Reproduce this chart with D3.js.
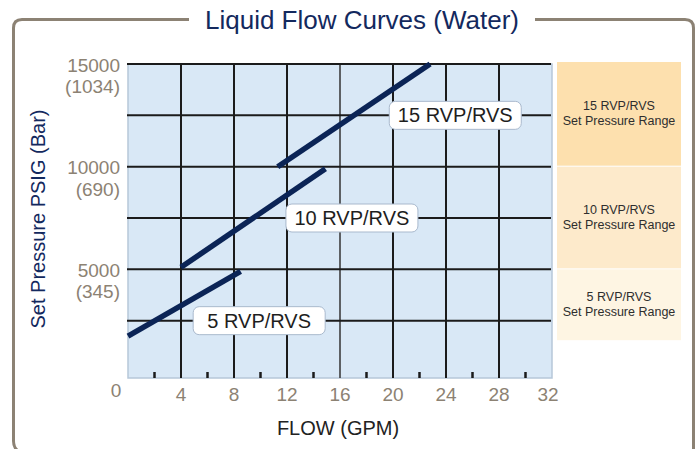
<!DOCTYPE html>
<html>
<head>
<meta charset="utf-8">
<script src="https://cdn.jsdelivr.net/npm/d3@7"></script>
<style>
  html, body { margin: 0; padding: 0; background: #fff; }
  svg { display: block; font-family: "Liberation Sans", Arial, Helvetica, sans-serif; }
</style>
</head>
<body>
<div id="chart"></div>
<script>
const WIDTH = 698;
const HEIGHT = 449;

// x axis (GPM)
const flowTicks = [4, 8, 12, 16, 20, 24, 28, 32];
const flowMinorTicks = [2, 6, 10, 14, 18, 22, 26, 30];
const flowGrid = [4, 8, 12, 16, 20, 24, 28];

// y axis (PSIG / Bar)
const pressureGrid = [2500, 5000, 7500, 10000, 12500, 15000];
const psigLabels = [15000, 10000, 5000];
const barLabels = [1034, 690, 345];

// curves
const seriesNames = ["5 RVP/RVS", "10 RVP/RVS", "15 RVP/RVS"];
const seriesFlow = [[0, 8.5], [4, 14.9], [11.3, 22.8]];
const seriesPressure = [[1750, 4900], [5100, 9900], [10000, 15000]];
const labelFlow = [9.9, 16.9, 24.7];
const labelPressure = [2500, 7500, 12500];

// set pressure ranges on the right
const rangeLow = [1500, 5000, 10000];
const rangeHigh = [5000, 10000, 15000];
const rangeColors = ["#fef5e3", "#fdeacb", "#fde0ae"];

const svg = d3.select("#chart")
    .append("svg")
    .attr("width", WIDTH)
    .attr("height", HEIGHT);

const x = d3.scaleLinear().domain([0, 32]).range([128, 552]);
const y = d3.scaleLinear().domain([0, 15000]).range([372, 64]);
const PLOT_BOTTOM = 378;

/* FRAME + TITLE */

const frame = d3.path();
frame.moveTo(189, 19.5);
frame.lineTo(22, 19.5);
frame.quadraticCurveTo(13.5, 19.5, 13.5, 28);
frame.lineTo(13.5, 441);
frame.quadraticCurveTo(13.5, 449, 20, 452);
frame.moveTo(535, 19.5);
frame.lineTo(685, 19.5);
frame.quadraticCurveTo(693.5, 19.5, 693.5, 28);
frame.lineTo(693.5, 452);

svg.append("path")
    .attr("d", frame.toString())
    .attr("fill", "none")
    .attr("stroke", "#8c8274")
    .attr("stroke-width", 3);

svg.append("text")
    .attr("x", 362)
    .attr("y", 29)
    .attr("text-anchor", "middle")
    .attr("fill", "#13295e")
    .style("font-size", "26px")
    .text("Liquid Flow Curves (Water)");

/* RANGE PANELS */

const panels = svg.append("g");
seriesNames.forEach((name, i) => {
    const top = y(rangeHigh[i]) - (i === 2 ? 2 : 0);
    const bottom = y(rangeLow[i]) - 1;
    panels.append("rect")
        .attr("x", 557)
        .attr("y", top)
        .attr("width", 124)
        .attr("height", bottom - top)
        .attr("fill", rangeColors[i]);
    const cy = (top + bottom) / 2;
    const t = panels.append("text")
        .attr("x", 619)
        .attr("text-anchor", "middle")
        .attr("fill", "#2e2e2e")
        .style("font-size", "12.5px");
    t.append("tspan").attr("x", 619).attr("y", cy - 4).text(name);
    t.append("tspan").attr("x", 619).attr("y", cy + 11).text("Set Pressure Range");
});

/* PLOT AREA */

svg.append("rect")
    .attr("x", x(0))
    .attr("y", y(15000))
    .attr("width", x(32) - x(0))
    .attr("height", PLOT_BOTTOM - y(15000))
    .attr("fill", "#d9e8f6")
    .attr("stroke", "#b6c7d9")
    .attr("stroke-width", 1.5);

const grid = svg.append("g");

grid.selectAll("line.v")
    .data(flowGrid)
    .enter()
    .append("line")
    .attr("x1", d => x(d))
    .attr("x2", d => x(d))
    .attr("y1", y(15000))
    .attr("y2", PLOT_BOTTOM)
    .attr("stroke", d => d === 16 ? "#333" : "#1b1b1b")
    .attr("stroke-width", d => d === 16 ? 1.5 : 2);

grid.selectAll("line.h")
    .data(pressureGrid)
    .enter()
    .append("line")
    .attr("x1", x(0) - 1)
    .attr("x2", x(32) - 1)
    .attr("y1", d => y(d))
    .attr("y2", d => y(d))
    .attr("stroke", "#1b1b1b")
    .attr("stroke-width", 2);

grid.selectAll("line.minor")
    .data(flowMinorTicks)
    .enter()
    .append("line")
    .attr("x1", d => x(d))
    .attr("x2", d => x(d))
    .attr("y1", PLOT_BOTTOM - 6)
    .attr("y2", PLOT_BOTTOM)
    .attr("stroke", "#1b1b1b")
    .attr("stroke-width", 2.5);

/* CURVES */

const line = d3.line()
    .x(d => x(d[0]))
    .y(d => y(d[1]));

seriesNames.forEach((name, i) => {
    const pts = seriesFlow[i].map((f, j) => [f, seriesPressure[i][j]]);
    svg.append("path")
        .attr("d", line(pts))
        .attr("fill", "none")
        .attr("stroke", "#0b2456")
        .attr("stroke-width", 5.5);
});

const labels = svg.append("g");
seriesNames.forEach((name, i) => {
    const cx = x(labelFlow[i]);
    const cy = y(labelPressure[i]);
    labels.append("rect")
        .attr("x", cx - 66)
        .attr("y", cy - 14)
        .attr("width", 132)
        .attr("height", 28)
        .attr("rx", 6)
        .attr("fill", "#fff")
        .attr("stroke", "#a9b9cd")
        .attr("stroke-width", 1);
    labels.append("text")
        .attr("x", cx)
        .attr("y", cy + 7)
        .attr("text-anchor", "middle")
        .attr("fill", "#1e1e1e")
        .style("font-size", "20px")
        .text(name);
});

/* AXIS LABELS */

const tickColor = "#8c8273";

svg.append("g").selectAll("text")
    .data(flowTicks)
    .enter()
    .append("text")
    .attr("x", d => x(d) - (d === 32 ? 4 : 0))
    .attr("y", 401)
    .attr("text-anchor", "middle")
    .attr("fill", tickColor)
    .style("font-size", "19px")
    .text(d => d);

svg.append("text")
    .attr("x", 116)
    .attr("y", 397)
    .attr("text-anchor", "middle")
    .attr("fill", tickColor)
    .style("font-size", "19px")
    .text("0");

const yLab = svg.append("g");
psigLabels.forEach((v, i) => {
    yLab.append("text")
        .attr("x", 120)
        .attr("y", y(v) + 7.5)
        .attr("text-anchor", "end")
        .attr("fill", tickColor)
        .style("font-size", "19px")
        .text(v);
    yLab.append("text")
        .attr("x", 120)
        .attr("y", y(v) + 29)
        .attr("text-anchor", "end")
        .attr("fill", tickColor)
        .style("font-size", "19px")
        .text(`(${barLabels[i]})`);
});

svg.append("text")
    .attr("transform", "translate(45, 219) rotate(-90)")
    .attr("text-anchor", "middle")
    .attr("fill", "#13295e")
    .style("font-size", "20px")
    .text("Set Pressure PSIG (Bar)");

svg.append("text")
    .attr("x", 338)
    .attr("y", 435)
    .attr("text-anchor", "middle")
    .attr("fill", "#222")
    .style("font-size", "20px")
    .text("FLOW (GPM)");
</script>
</body>
</html>
